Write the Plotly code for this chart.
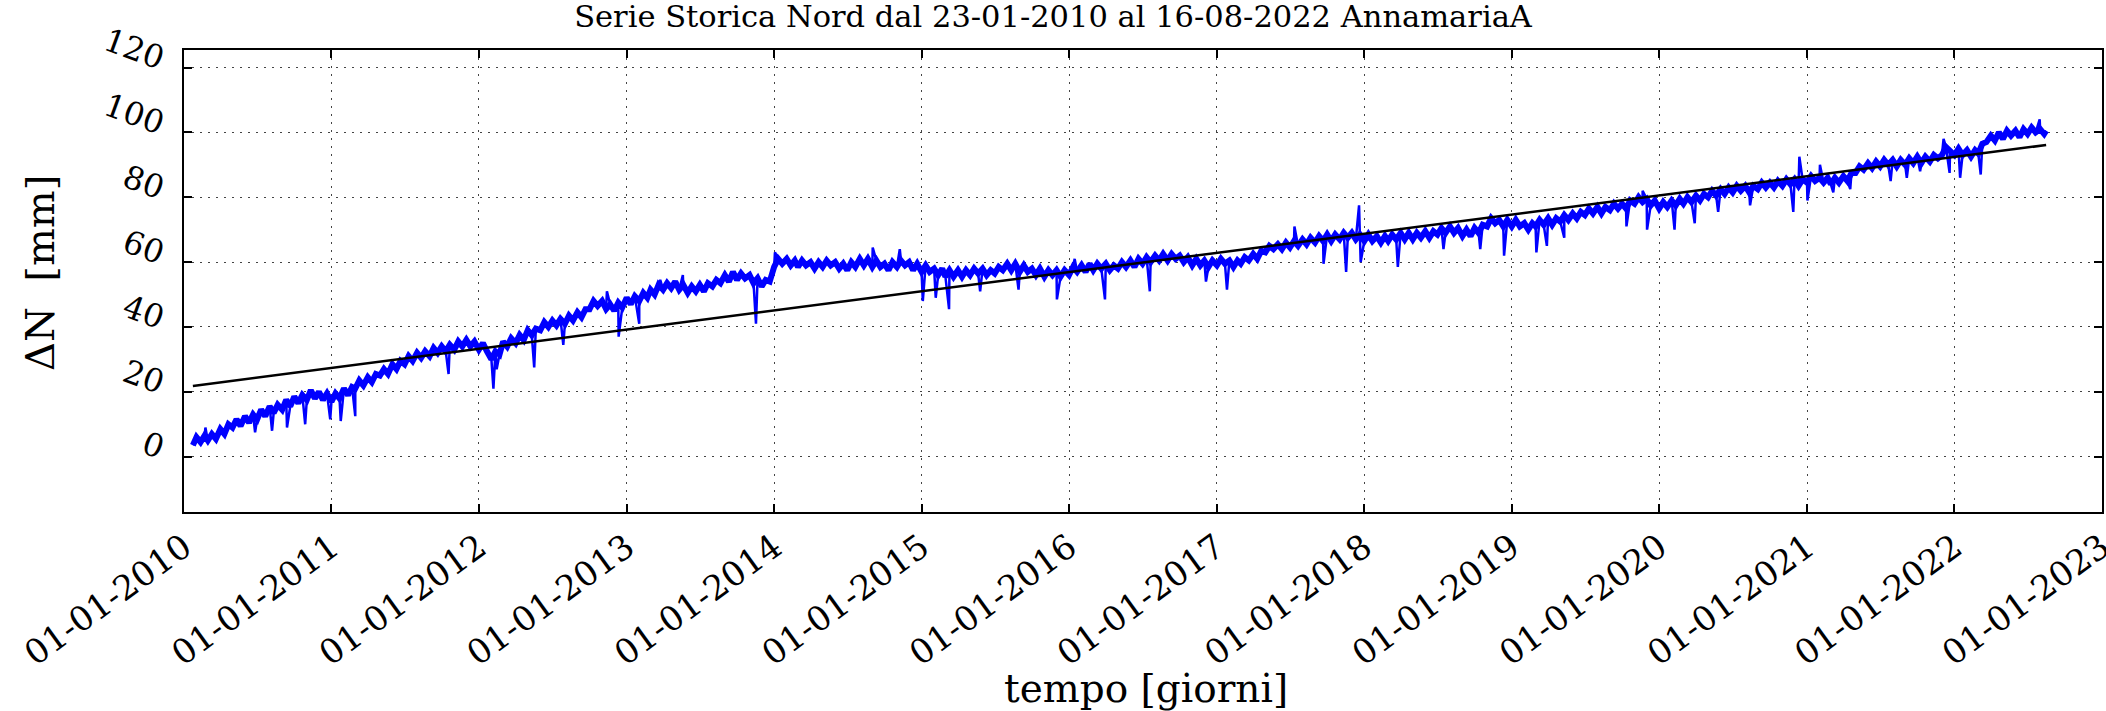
import plotly.graph_objects as go

# ---------------- data ----------------
TITLE = "Serie Storica Nord dal 23-01-2010 al 16-08-2022 AnnamariaA"
X_TITLE = "tempo [giorni]"
Y_TITLE = "ΔN\u00a0\u00a0[mm]"

year_ticks = [f"{y}-01-01" for y in range(2010, 2024)]
year_labels = [f"01-01-{y}" for y in range(2010, 2024)]
y_ticks = [0, 20, 40, 60, 80, 100, 120]

# displacement north [mm], sampled on days 1/11/21 of every month
v2010 = [3.5,
         6, 4.5, 6.5, 5, 7, 5.5, 8.5, 7, 10, 9, 11.5, 9.5, 12.5, 10.5, 13, 11.5, 14.5, 12.5,
         15.5, 13.5, 16, 14.5, 17.5, 15.5, 18.5, 16.5, 19, 17.5, 20.5, 18, 20, 17.5, 19.5]
v2011 = [17, 19.5, 18, 21, 19, 21.5, 21, 23.5, 22, 24.5, 23, 25.5, 25, 27, 25.5, 28.5, 27, 29.5,
         28.5, 31, 29.5, 32, 30.5, 32.5, 31, 33.5, 32, 34, 32.5, 34.5, 33, 35.5, 34, 36, 34, 35.5]
v2012 = [33, 35, 32.5, 30, 32.5, 31.5, 35.5, 34, 36.5, 35, 37.5, 36, 39, 37.5, 39.5, 39, 41.5, 40,
         42, 40.5, 42.5, 41, 43.5, 42, 44.5, 43, 45.5, 45.5, 48, 46.5, 48, 45.5, 47, 45, 47.5, 46]
v2013 = [49, 47, 49.5, 48, 50.5, 49, 51.5, 50, 53, 51.5, 53.5, 52, 54, 51.5, 53, 50.5, 52.5, 51,
         53, 51, 53.5, 52.5, 54.5, 53.5, 56, 54, 57, 54.5, 56.5, 55, 56, 53.5, 55, 52.5, 54.5, 54]
v2014 = [58.5, 61, 59.5, 61, 59, 60.5, 58.5, 60.5, 59, 60, 58, 60, 58.5, 60.5, 59, 60, 58, 59.5,
         57.5, 60, 58.5, 61, 59, 61, 58.5, 60.5, 58.5, 59.5, 57.5, 60, 58.5, 60.5, 59, 60, 57.5, 59.5]
v2015 = [57, 59, 57, 58, 56, 58, 55.5, 57.5, 55.5, 57.5, 55.5, 57.5, 56, 58, 56.5, 58, 56, 57.5,
         56.5, 58.5, 57.5, 59.5, 57.5, 59.5, 57, 59, 57, 58, 56, 58, 55.5, 57.5, 56, 57.5, 55.5, 57.5]
v2016 = [56, 58.5, 57, 59, 57, 59.5, 57.5, 59.5, 58, 59.5, 57.5, 59, 58, 60, 58.5, 60.5, 58.5, 61,
         59.5, 61.5, 60, 62, 60.5, 62.5, 60.5, 62.5, 61, 62, 60, 61.5, 59, 61, 59, 60.5, 58.5, 60.5]
v2017 = [59, 61, 59.5, 60.5, 58.5, 60.5, 59.5, 61.5, 60.5, 62.5, 61, 63.5, 63, 65, 64, 65.5, 64, 66,
         64.5, 66.5, 65, 67, 65.5, 67.5, 66, 68, 66.5, 68.5, 66.5, 68.5, 67, 69, 67.5, 69, 67, 68.5]
v2018 = [66.5, 68.5, 66.5, 68, 66, 68, 66.5, 68.5, 67, 69, 67, 69, 67, 69, 67.5, 69.5, 67.5, 69.5,
         68.5, 70.5, 69, 71, 69, 70.5, 68, 70, 68, 70.5, 69, 71.5, 71, 73.5, 72, 73, 71, 73]
v2019 = [71, 73, 71, 72, 70, 72, 71, 73, 71.5, 73.5, 71.5, 73.5, 72.5, 74.5, 73, 75, 73.5, 75.5,
         74.5, 76.5, 75, 77, 75, 77, 76, 78, 76.5, 78, 76.5, 79, 78, 80, 78.5, 79.5, 77.5, 79]
v2020 = [76.5, 78.5, 77, 79, 77.5, 79.5, 78, 80, 78.5, 80.5, 79, 81, 80, 82, 80.5, 82.5, 81, 83,
         81.5, 83.5, 82, 83.5, 81.5, 83.5, 82.5, 84.5, 83, 84.5, 83, 85, 83.5, 85.5, 84, 85.5, 83.5, 85.5]
v2021 = [84.5, 86.5, 85, 86, 84.5, 86, 84, 86, 84.5, 86.5, 85, 87.5, 87.5, 89.5, 88.5, 90.5, 89, 91,
         89.5, 91.5, 90, 91.5, 89.5, 91.5, 90, 92, 90.5, 92.5, 90.5, 92.5, 91, 93, 92, 93, 95.5, 94]
v2022 = [93, 95, 93, 94.5, 92.5, 94.5, 93.5, 96.5, 97, 99, 97.5, 100, 98, 100.5, 99, 100.5, 98.5, 101,
         99.5, 101.5, 100, 101, 99.5, 100.5]

# isolated spikes / drops
spike_dates = ["2010-02-23", "2010-06-26", "2010-08-07", "2010-09-13", "2010-10-28", "2010-12-29",
               "2011-01-24", "2011-03-01", "2011-10-18", "2012-02-06", "2012-02-14", "2012-05-17",
               "2012-07-28", "2012-11-13", "2012-12-12", "2013-02-01", "2013-03-25", "2013-05-20",
               "2013-11-17", "2014-01-03", "2014-09-02", "2014-11-08", "2015-01-04", "2015-02-05",
               "2015-03-10", "2015-05-26", "2015-08-29", "2015-12-02", "2016-01-15", "2016-03-30",
               "2016-07-19", "2016-12-05", "2017-01-26", "2017-07-12", "2017-09-22", "2017-11-17",
               "2017-12-19", "2017-12-23", "2018-03-25", "2018-07-16", "2018-10-15", "2018-12-13",
               "2019-03-03", "2019-03-29", "2019-05-11", "2019-10-12", "2019-11-21", "2019-12-02",
               "2020-02-08", "2020-03-29", "2020-05-26", "2020-08-13", "2020-11-28", "2020-12-13",
               "2021-01-02", "2021-02-02", "2021-03-07", "2021-04-18", "2021-07-27", "2021-09-05",
               "2021-10-08", "2021-12-05", "2021-12-20", "2022-01-15", "2022-03-07", "2022-07-31"]
spike_values = [9, 7.5, 8, 9, 10, 11.5,
                11, 12.5, 25.5, 21, 27, 27.5,
                34.5, 51, 37, 41, 54.5, 56,
                41, 63, 64.5, 64, 48, 49,
                45.5, 51, 51.5, 48.5, 61, 48.5,
                51, 54, 51.5, 71, 59.5, 57,
                77.5, 60, 58.5, 64, 64, 62,
                63, 65, 67.5, 71, 82, 70,
                70, 72, 75.5, 77.5, 75.5, 92.5,
                79, 90, 81.5, 82.5, 85, 86,
                88, 98, 87.5, 86, 87, 104]

# linear trend (regression line end points)
trend_dates = ["2010-01-23", "2022-08-16"]
trend_values = [21.8, 96.1]

# ---------------- assemble series ----------------
base_values = v2010 + v2011 + v2012 + v2013 + v2014 + v2015 + v2016 + v2017 + v2018 + v2019 + v2020 + v2021 + v2022
base_dates = []
for y in range(2010, 2023):
    for m in range(1, 13):
        for d in (1, 11, 21):
            s = f"{y}-{m:02d}-{d:02d}"
            if s < "2010-01-21" or s > "2022-08-11":
                continue
            base_dates.append(s)
base_dates[0] = "2010-01-23"
base_dates.append("2022-08-16")
assert len(base_dates) == len(base_values), (len(base_dates), len(base_values))

pts = sorted(list(zip(base_dates, base_values)) + list(zip(spike_dates, spike_values)))
dates = [p[0] for p in pts]
values = [p[1] for p in pts]

# ---------------- figure ----------------
FONT = "DejaVu Serif"
W, H = 2106, 711
L, R, T, B = 184, 4, 50, 199
PW, PH = W - L - R, H - T - B
BLUE = "#0000ff"

fig = go.Figure()
# thick noisy band
fig.add_trace(go.Scatter(x=base_dates, y=base_values, mode="lines",
                         line=dict(color=BLUE, width=6), hoverinfo="skip"))
# same series incl. single-day spikes, thin
fig.add_trace(go.Scatter(x=dates, y=values, mode="lines",
                         line=dict(color=BLUE, width=2.5), hoverinfo="skip"))
# trend
fig.add_trace(go.Scatter(x=trend_dates, y=trend_values, mode="lines",
                         line=dict(color="black", width=2.5), hoverinfo="skip"))

fig.update_layout(
    width=W, height=H,
    margin=dict(l=L, r=R, t=T, b=B, autoexpand=False),
    paper_bgcolor="white", plot_bgcolor="white",
    showlegend=False,
    font=dict(family=FONT, size=30, color="black"),
    title=dict(text=TITLE, x=0.5, xref="container", xanchor="center",
               y=1 - 16 / H, yref="container", yanchor="middle",
               font=dict(family=FONT, size=30.5, color="black")),
    annotations=[
        dict(text=X_TITLE, xref="paper", yref="paper",
             x=(1146 - L) / PW, y=(H - B - 688) / PH,
             xanchor="center", yanchor="middle", showarrow=False,
             font=dict(family=FONT, size=39, color="black")),
        dict(text=Y_TITLE, xref="paper", yref="paper",
             x=(40 - L) / PW, y=(H - B - 273) / PH, textangle=-90,
             xanchor="center", yanchor="middle", showarrow=False,
             font=dict(family=FONT, size=40, color="black")),
    ],
)
fig.update_xaxes(
    type="date", range=["2010-01-01", "2023-01-01 06:00"],
    tickmode="array", tickvals=year_ticks, ticktext=year_labels, tickangle=-36,
    tickfont=dict(family=FONT, size=34), ticklabeloverflow="allow",
    ticks="inside", ticklen=8, tickwidth=1.5, tickcolor="black",
    showline=True, linecolor="black", linewidth=2, mirror="ticks",
    showgrid=True, gridcolor="#444444", gridwidth=1, griddash="2px,6px",
    zeroline=False, automargin=False,
)
fig.update_yaxes(
    range=[-17.05, 125.4],
    tickmode="array", tickvals=y_ticks, ticktext=[str(v) for v in y_ticks], tickangle=20,
    tickfont=dict(family=FONT, size=32), ticklabeloverflow="allow",
    ticklabelshift=-8, ticklabelstandoff=11,
    ticks="inside", ticklen=8, tickwidth=1.5, tickcolor="black",
    showline=True, linecolor="black", linewidth=2, mirror="ticks",
    showgrid=True, gridcolor="#444444", gridwidth=1, griddash="2px,6px",
    zeroline=False, automargin=False,
)

fig.write_html("out.html", config={"displayModeBar": False},
               post_script="document.body.style.margin='0px';document.body.style.overflow='hidden';")
